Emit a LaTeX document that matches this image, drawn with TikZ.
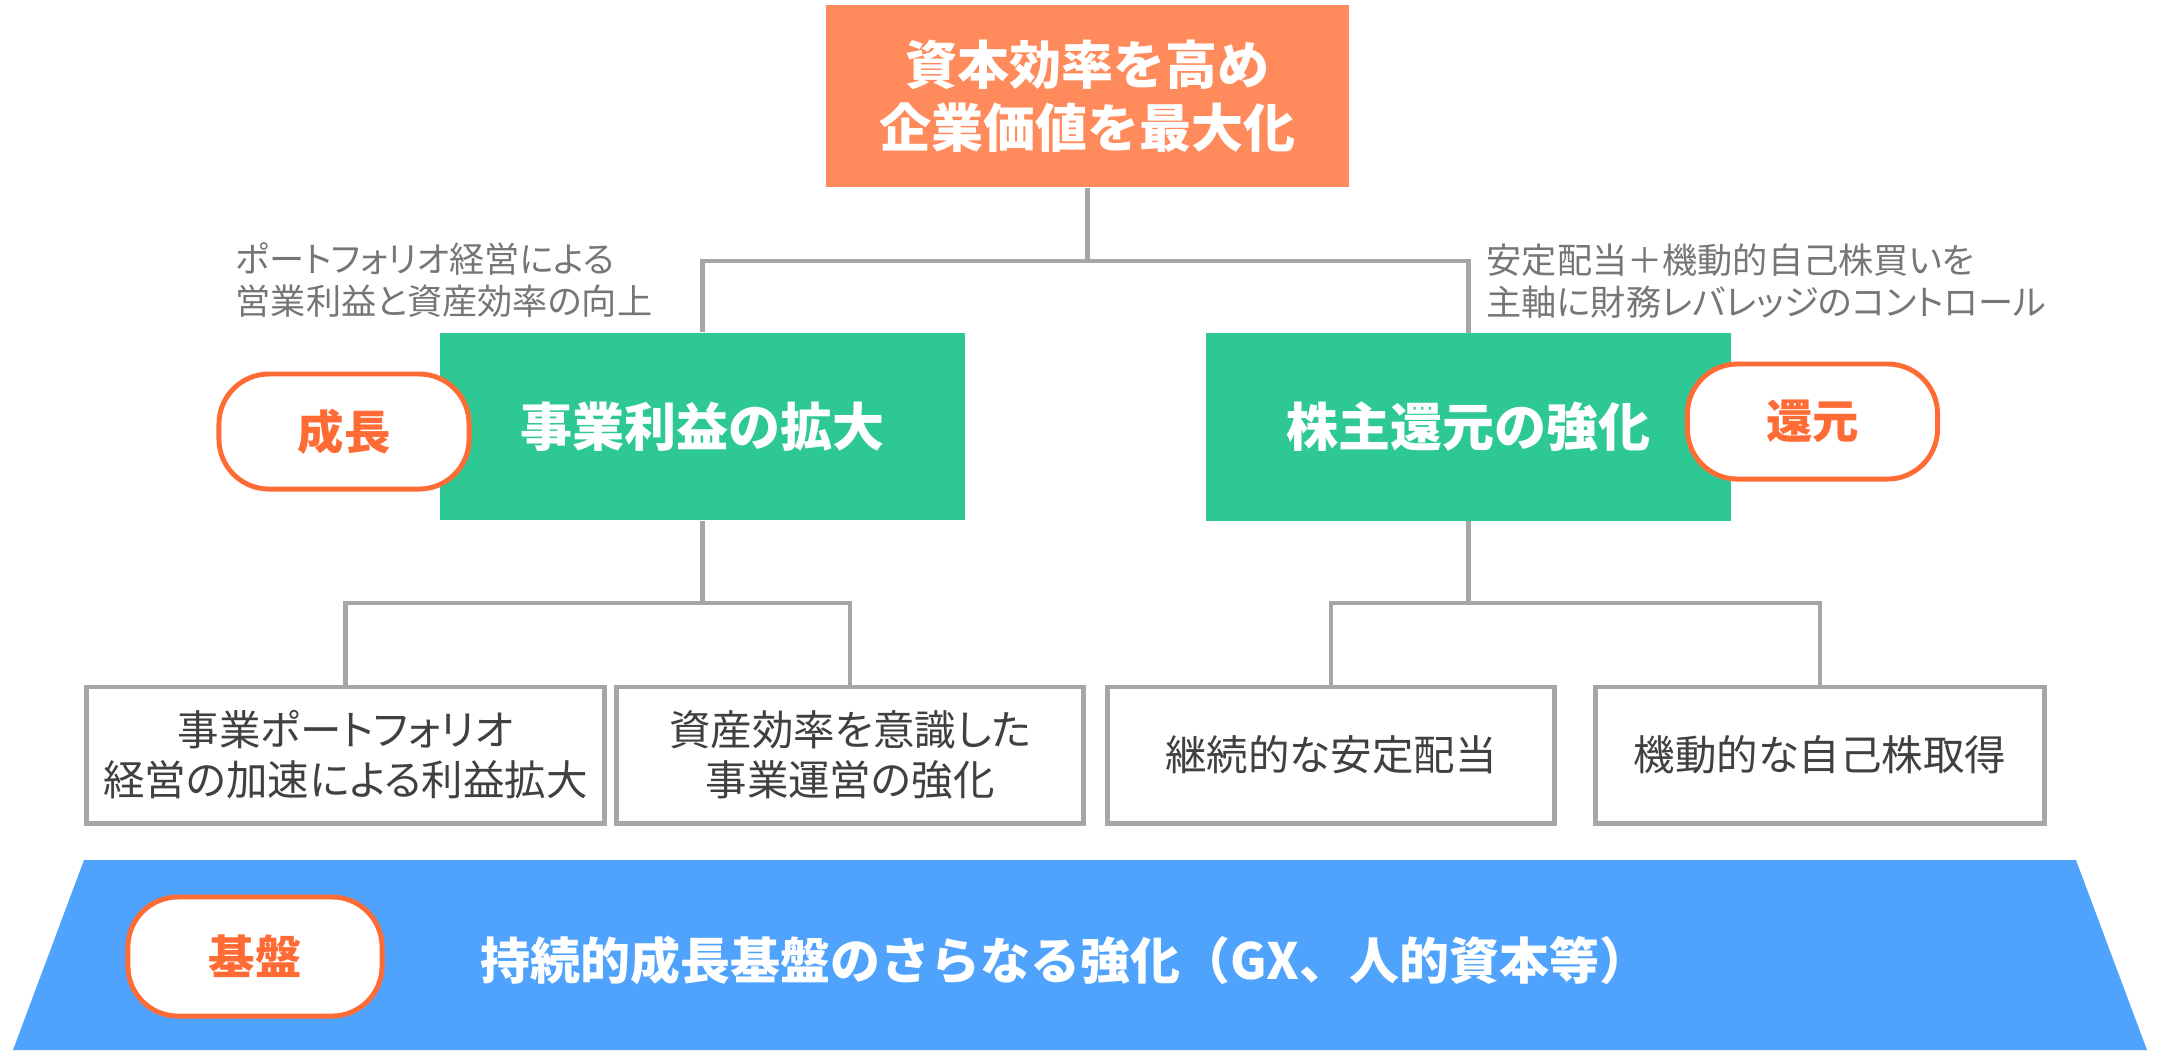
\documentclass[tikz,border=0pt]{standalone}
\usepackage{fontspec}
\setmainfont{Noto Sans CJK JP}
\usepackage{xcolor}
\definecolor{goalor}{RGB}{255,138,91}
\definecolor{grn}{RGB}{46,200,149}
\definecolor{blu}{RGB}{79,163,252}
\definecolor{pillor}{RGB}{255,107,53}
\definecolor{lgray}{RGB}{166,166,166}
\definecolor{notegray}{RGB}{118,118,118}
\definecolor{boxtxt}{RGB}{64,64,64}

\begin{document}
\begin{tikzpicture}[x=0.01cm,y=-0.01cm,
    conn/.style={draw=lgray,line width=1.4pt},
    pillar/.style={fill=grn,text=white,minimum width=5.25cm,minimum height=1.87cm,
      font=\bfseries\fontsize{14.8}{18}\selectfont},
    tag/.style={draw=pillor,line width=1.4pt,fill=white,text=pillor,rounded corners=0.5cm,
      minimum width=2.5cm,minimum height=1.15cm,font=\bfseries\fontsize{13.2}{16}\selectfont},
    measure/.style={draw=lgray,line width=1.4pt,fill=white,text=boxtxt,align=center,
      minimum height=1.36cm,font=\addfontfeatures{RawFeature=+palt}\fontsize{11.8}{14.2}\selectfont},
    note/.style={anchor=west,align=left,inner sep=0pt,text=notegray,
      font=\addfontfeatures{RawFeature=+palt}\fontsize{10}{11.7}\selectfont}]
    \useasboundingbox (0,0) rectangle (2162,1050);

    \node[fill=goalor,text=white,align=center,minimum width=5.23cm,minimum height=1.82cm,
      font=\bfseries\fontsize{14.8}{17.9}\selectfont] (goal) at (1087.5,96)
    {資本効率を高め\\企業価値を最大化};

    \node[pillar] (growth) at (702.5,426.5) {事業利益の拡大};
    \node[pillar] (payout) at (1468.5,427) {株主還元の強化};
    \node[tag] (growthtag) at (344,431.5) {成長};
    \node[tag] (payouttag) at (1812.5,421.5) {還元};

    \node[note] (growthnote) at (235,280) {ポートフォリオ経営による\\営業利益と資産効率の向上};
    \node[note] (payoutnote) at (1486,281) {安定配当＋機動的自己株買いを\\主軸に財務レバレッジのコントロール};

    \node[measure,minimum width=5.17cm] (m1) at (345.5,755)
    {事業ポートフォリオ\\経営の加速による利益拡大};
    \node[measure,minimum width=4.66cm] (m2) at (850,755)
    {資産効率を意識した\\事業運営の強化};
    \node[measure,minimum width=4.46cm] (m3) at (1331,755) {継続的な安定配当};
    \node[measure,minimum width=4.48cm] (m4) at (1820,755) {機動的な自己株取得};

    % top split and the two lower splits
    \coordinate (topsplit) at (1087.5,261);
    \coordinate (lsplit) at (702.5,603);
    \coordinate (rsplit) at (1468.5,603);
    \draw[conn] (goal) -- (topsplit);
    \draw[conn] (growth.north) |- (topsplit) -| (payout.north);
    \draw[conn] (growth) -- (lsplit);
    \draw[conn] (m1.north) |- (lsplit) -| (m2.north);
    \draw[conn] (payout) -- (rsplit);
    \draw[conn] (m3.north) |- (rsplit) -| (m4.north);

    \fill[blu] (84,860) -- (2076,860) -- (2147,1050) -- (13,1050) -- cycle;
    \node[tag,minimum height=1.19cm,minimum width=2.54cm] (basetag) at (255,956.5) {基盤};
    \node[text=white,font=\bfseries\fontsize{14.2}{17}\selectfont] (base) at (1065,960)
    {持続的成長基盤のさらなる強化（GX、人的資本等）};

  \end{tikzpicture}
\end{document}
